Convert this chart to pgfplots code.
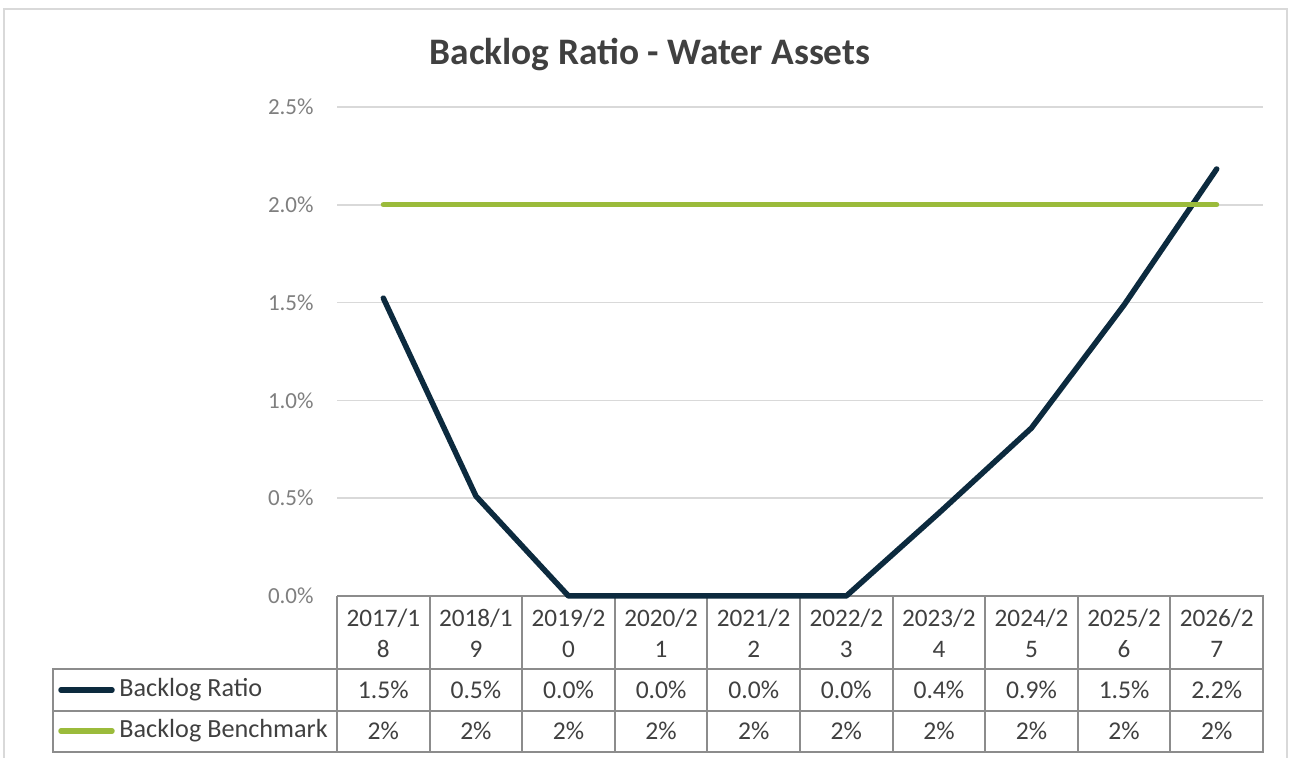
\documentclass[border=0pt]{standalone}
\usepackage{pgfplots}
\pgfplotsset{compat=1.18}
\usepackage{fontspec}
\setmainfont{Carlito}

\definecolor{navy}{HTML}{0C2A3E}
\definecolor{bgreen}{HTML}{9BBB3B}
\definecolor{gridc}{HTML}{D9D9D9}
\definecolor{tickc}{HTML}{7F7F7F}
\definecolor{txt}{HTML}{404040}
\definecolor{tabline}{HTML}{8C8C8C}

\pgfplotstableread{
x ratio bench
0 1.523 2
1 0.511 2
2 0.000 2
3 0.000 2
4 0.000 2
5 0.000 2
6 0.424 2
7 0.859 2
8 1.488 2
9 2.183 2
}\data

\begin{document}
\begin{tikzpicture}
% pixel grid of the reference, y pointing down
\begin{scope}[x=0.5pt, y=-0.5pt, yshift=379pt]
  \path[use as bounding box, fill=white] (0,0) rectangle (1290,758);
  \draw[gridc, line width=1.2pt] (4,760) -- (4,9) -- (1287,9) -- (1287,760);
  \node[font=\bfseries\fontsize{18.7}{22}\selectfont, text=txt] at (650,55) {Backlog Ratio - Water Assets};

  % data table
  \begin{scope}[tabline, line width=1pt]
    \draw (337,596) -- (1263,596) -- (1263,752) -- (53,752) -- (53,669) -- (1263,669);
    \draw (53,711) -- (1263,711);
    \foreach \k in {0,...,9} \draw ({337+92.6*\k},596) -- ({337+92.6*\k},752);
  \end{scope}
  \foreach \lab [count=\i from 0] in {2017/1\\8, 2018/1\\9, 2019/2\\0, 2020/2\\1, 2021/2\\2,
      2022/2\\3, 2023/2\\4, 2024/2\\5, 2025/2\\6, 2026/2\\7}
    \node[align=center, text=txt, font=\fontsize{12.6}{15.5}\selectfont]
      at ({383.3+92.6*\i},633) {\lab};
  \foreach \v [count=\i from 0] in {1.5,0.5,0.0,0.0,0.0,0.0,0.4,0.9,1.5,2.2}
    \node[text=txt, font=\fontsize{12.8}{14}\selectfont] at ({383.3+92.6*\i},690) {\v\%};
  \foreach \i in {0,...,9}
    \node[text=txt, font=\fontsize{12.8}{14}\selectfont] at ({383.3+92.6*\i},731) {2\%};
  \draw[navy, line width=2.75pt, line cap=round] (61,690) -- (112,690);
  \draw[bgreen, line width=2.75pt, line cap=round] (61,731) -- (112,731);
  \node[anchor=west, inner sep=0pt, text=txt, font=\fontsize{13.1}{15}\selectfont] at (119,690) {Backlog Ratio};
  \node[anchor=west, inner sep=0pt, text=txt, font=\fontsize{13.1}{15}\selectfont] at (119,731) {Backlog Benchmark};
\end{scope}

\begin{axis}[
  at={(168.5pt,81pt)}, anchor=south west,
  scale only axis, width=463pt, height=244.5pt,
  xmin=-0.5, xmax=9.5, ymin=0, ymax=2.5,
  axis x line*=bottom, axis y line*=left,
  x axis line style={draw=tabline, line width=1pt, -},
  y axis line style={draw=none},
  xtick=\empty,
  ytick={0,0.5,...,2.5},
  ymajorgrids, grid style={gridc, line width=0.8pt},
  major tick length=0pt,
  /pgf/number format/assume math mode=true,
  yticklabel={\pgfmathprintnumber[fixed,fixed zerofill,precision=1]{\tick}\%},
  yticklabel style={anchor=east, inner sep=0pt, xshift=-11.5pt, text=tickc,
    font=\fontsize{11.5}{14}\selectfont},
  clip=false,
]
\addplot[navy, line width=2.75pt, line cap=round, line join=round] table[x=x, y=ratio] {\data};
\addplot[bgreen, line width=2.5pt, line cap=round] table[x=x, y=bench] {\data};
\end{axis}
\end{tikzpicture}
\end{document}
